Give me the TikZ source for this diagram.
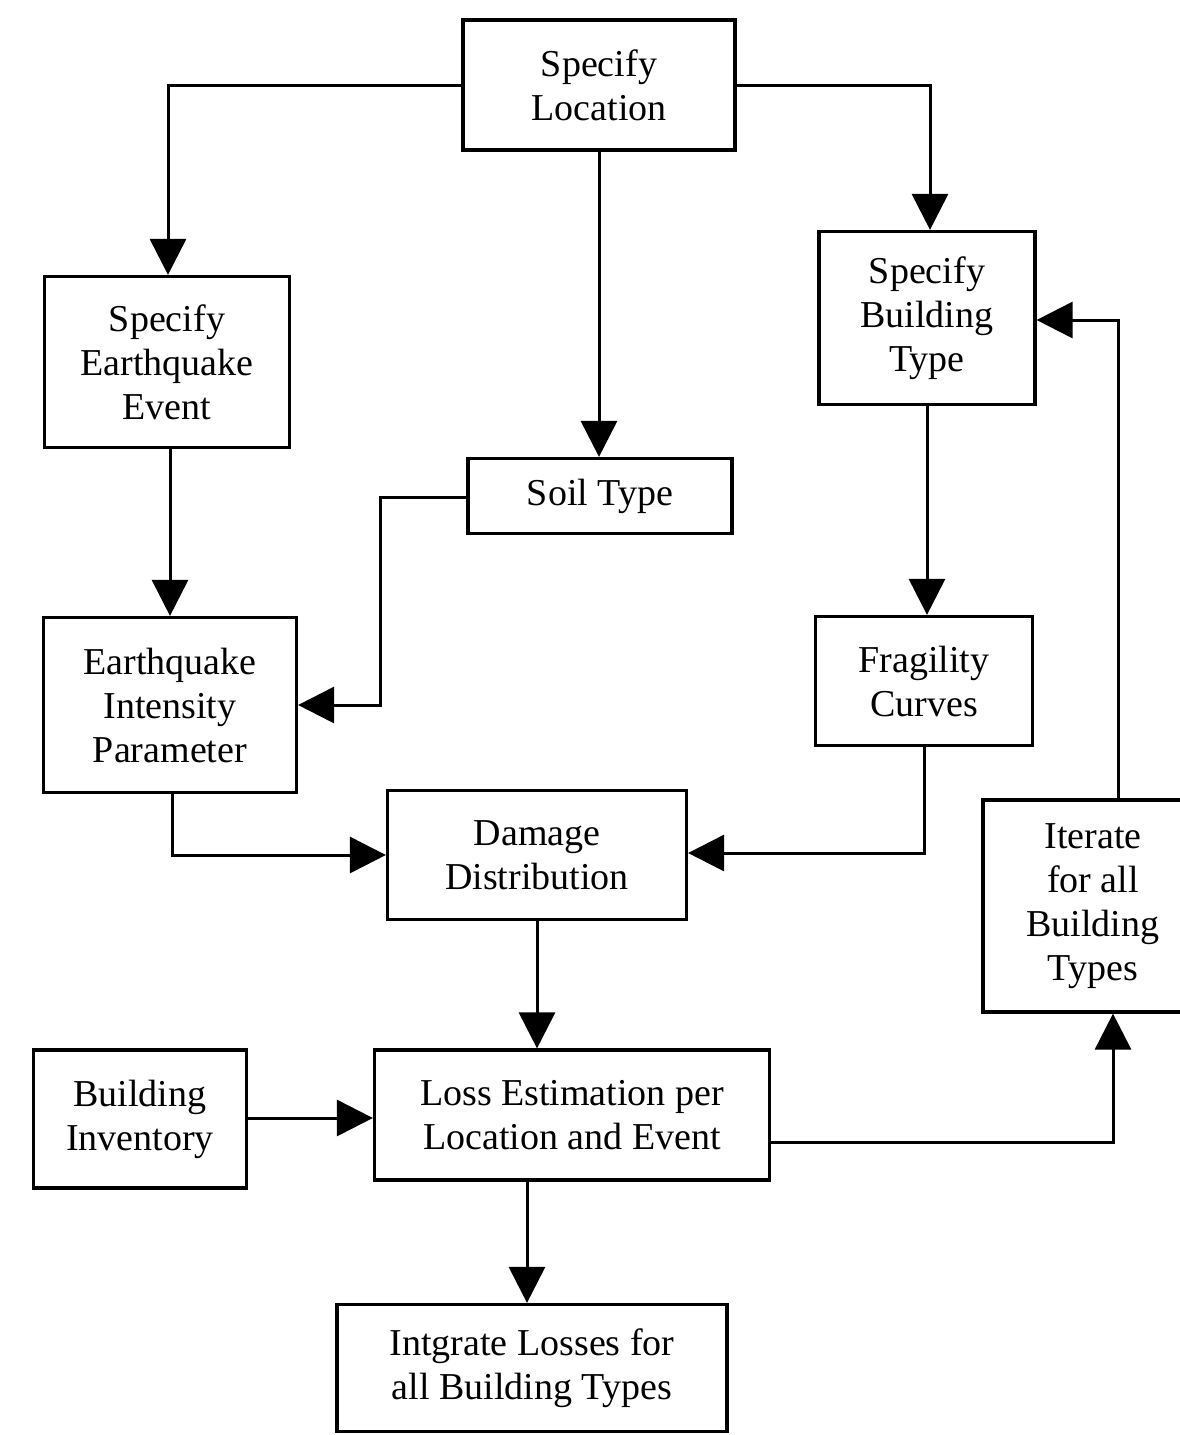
\documentclass[tikz,border=0pt]{standalone}
\usepackage{fontspec}
\setmainfont{Liberation Serif}
\usetikzlibrary{arrows.meta}
\begin{document}
\begin{tikzpicture}[x=1pt,y=-1pt,
  box/.style={draw,line width=3.2pt,align=center,inner sep=0pt,
    font=\fontsize{38}{44}\selectfont},
  conn/.style={line width=3pt,-{Triangle[width=36pt,length=36pt]}}]
\useasboundingbox (0,0) rectangle (1180,1435);
% boxes: center, width, height from pixel measurements
\node[box,minimum width=272pt,minimum height=130pt] (loc) at (599,85) {Specify\\Location};
\node[box,minimum width=245pt,minimum height=171pt] (eqe) at (167,362) {Specify\\Earthquake\\Event};
\node[box,minimum width=264pt,minimum height=75pt] (soil) at (600,496) {Soil Type};
\node[box,minimum width=216pt,minimum height=173pt] (bt) at (927,318) {Specify\\Building\\Type};
\node[box,minimum width=253pt,minimum height=175pt] (eqi) at (170,705) {Earthquake\\Intensity\\Parameter};
\node[box,minimum width=217pt,minimum height=129pt] (frag) at (924,681) {Fragility\\Curves};
\node[box,minimum width=299pt,minimum height=129pt] (dmg) at (537,855) {Damage\\Distribution};
\node[box,minimum width=220pt,minimum height=212pt] (iter) at (1093,906) {Iterate\\for all\\Building\\Types};
\node[box,minimum width=213pt,minimum height=138pt] (inv) at (140,1119) {Building\\Inventory};
\node[box,minimum width=395pt,minimum height=130pt] (loss) at (572,1115) {Loss Estimation per\\Location and Event};
\node[box,minimum width=390pt,minimum height=127pt] (intg) at (532,1368) {Intgrate Losses for\\all Building Types};
% connectors
\draw[conn] (loc.west |- 0,85) -| (eqe.north -| 168,0);
\draw[conn] (loc.south) -- (soil.north -| loc.south);
\draw[conn] (loc.east |- 0,85) -| (bt.north -| 930,0);
\draw[conn] (eqe.south -| 170,0) -- (eqi.north -| 170,0);
\draw[conn] (soil.west |- 0,497) -| (380,705) -- (eqi.east |- 0,705);
\draw[conn] (bt.south -| 927,0) -- (frag.north -| 927,0);
\draw[conn] (eqi.south -| 172,0) |- (dmg.west |- 0,855);
\draw[conn] (frag.south -| 924,0) |- (dmg.east |- 0,853);
\draw[conn] (dmg.south -| 537,0) -- (loss.north -| 537,0);
\draw[conn] (inv.east |- 0,1118) -- (loss.west |- 0,1118);
\draw[conn] (loss.east |- 0,1142) -| (iter.south -| 1113,0);
\draw[conn] (iter.north -| 1118,0) |- (bt.east |- 0,320);
\draw[conn] (loss.south -| 527,0) -- (intg.north -| 527,0);
\end{tikzpicture}
\end{document}
